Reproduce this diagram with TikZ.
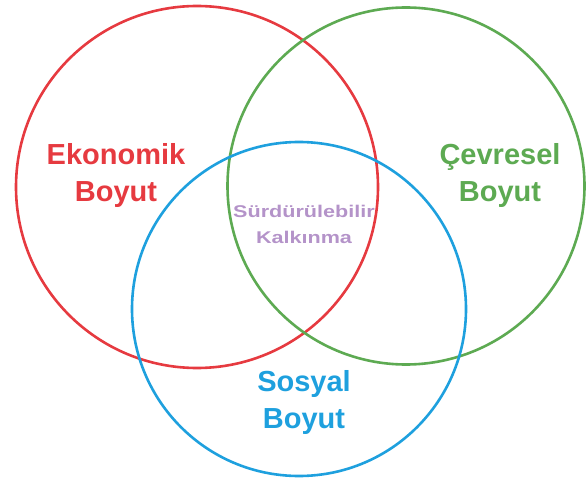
\documentclass[tikz,border=0pt]{standalone}
\usepackage{fontspec}
\setmainfont{Liberation Sans}
\usepackage{xcolor}
\usepackage{tikz}
\usetikzlibrary{positioning}
\definecolor{ekored}{HTML}{E63A40}
\definecolor{cevgreen}{HTML}{5DAA52}
\definecolor{sosblue}{HTML}{1EA0DE}
\definecolor{kalpurple}{HTML}{B493C9}
\tikzset{
    ring/.style={draw, line width=2.6pt},
    dimlabel/.style={anchor=base, align=center, font=\fontsize{29}{37}\selectfont\bfseries},
    corelabel/.style={anchor=base, align=center, font=\fontsize{17}{26}\selectfont\bfseries, text=kalpurple}
}
\begin{document}
\begin{tikzpicture}[x=1pt, y=1pt]
\useasboundingbox (0,0) rectangle (587,483);

% the three dimensions
\draw[ring, ekored] (197,296) circle (181);
\draw[ring, cevgreen] (406,297) circle (178.5);
\draw[ring, sosblue] (299,174) circle (167);

\node[dimlabel, text=ekored] (ekonomik) at (116,281) {Ekonomik\\Boyut};
\node[dimlabel, text=cevgreen] (cevresel) at (500,281) {Çevresel\\Boyut};
\node[dimlabel, text=sosblue] (sosyal) at (304,55) {Sosyal\\Boyut};

\node[corelabel] (kalkinma) at (304,240) {\scalebox{1.27}[1]{Sürdürülebilir}\\\scalebox{1.27}[1]{Kalkınma}};

\end{tikzpicture}
\end{document}
